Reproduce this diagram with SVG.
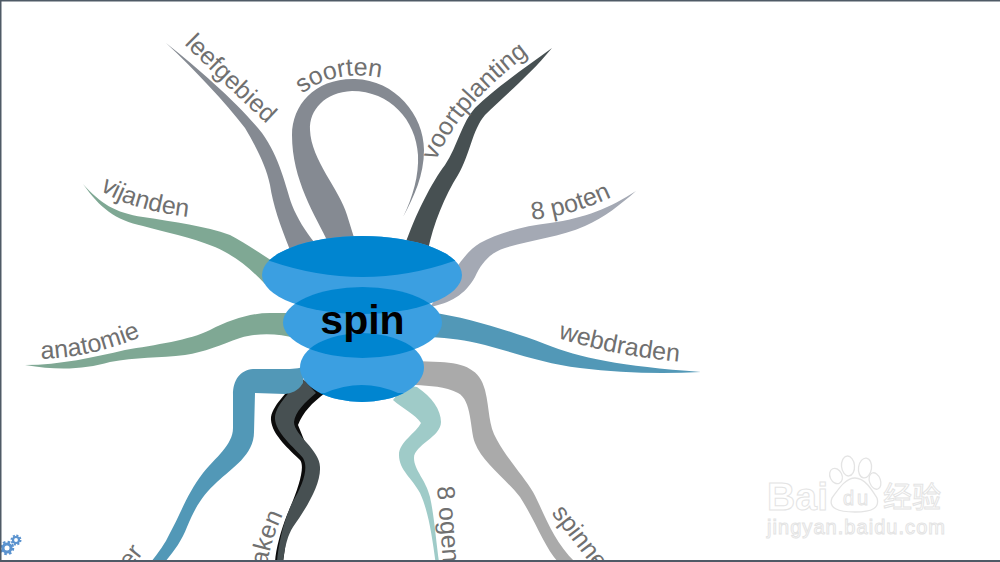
<svg xmlns="http://www.w3.org/2000/svg" width="1000" height="562" viewBox="0 0 1000 562">
<style>
.lbl{font-family:"Liberation Sans",Arial,sans-serif;font-size:25px;fill:#707070}
.wm{font-family:"Liberation Sans",Arial,sans-serif;fill:#fff;stroke:#e4e4e4;stroke-width:1}
.wc{fill:#fff;stroke:#e4e4e4;stroke-width:1.300}
.light{fill:#3b9fe1}
.dark{fill:#0085d0}
.gear{fill:none;stroke:#5b93cf}
</style>
<defs>
<clipPath id="ct"><ellipse cx="362" cy="275" rx="100" ry="39"/></clipPath>
<clipPath id="cm"><ellipse cx="362.500" cy="322.500" rx="79.500" ry="35.500"/></clipPath>
<clipPath id="cb"><ellipse cx="362" cy="367.500" rx="62" ry="34.500"/></clipPath>
<path id="p-leef" d="M184 44Q225 85 268 125"/>
<path id="p-soort" d="M302 94Q339 66 390 80"/>
<path id="p-voort" d="M436 161Q458 106 534 50"/>
<path id="p-poten" d="M532 220Q575 215 616 195"/>
<path id="p-vij" d="M100 190Q130 210 190 217"/>
<path id="p-ana" d="M41 359Q95 357 142 336"/>
<path id="p-web" d="M558 338Q610 355 682 362"/>
<path id="p-aken" d="M267 566Q272 535 287 506"/>
<path id="p-ogen" d="M437 487Q440 520 444 575"/>
</defs>
<rect width="1000" height="562" fill="#fff"/>
<g id="connectors">
<path fill="#858a92" d="M166 43C200 70 240 105 262 133C280 158 285 185 292 205C297 218 306 232 314 242L290 250C280 225 273 205 270 185C266 165 255 145 245 128C225 102 195 70 166 43Z"/>
<path fill="#858a92" d="M329 244C315 215 292 180 292 135C292 105 315 78 355 79C395 80 424 115 424 150C424 175 414 197 403 217C413 197 419 175 418 155C416 120 390 91 352 91C325 92 309 110 310 130C311 160 340 190 347 215L356 244Z"/>
<path fill="#475052" d="M552 48C525 68 495 88 475 108C462 122 458 145 445 165C432 182 415 215 405 245L428 250C433 225 445 195 458 175C470 155 472 130 485 115C505 95 530 75 552 48Z"/>
<path fill="#a4a9b4" d="M636 191C610 208 585 218 550 223C525 226 500 232 480 243C465 252 455 270 445 285L430 307C450 303 465 295 475 277C482 262 490 253 505 248C530 240 560 237 585 226C605 217 620 205 636 191Z"/>
<path fill="#7fa894" d="M83 184C100 203 115 213 143 217C175 222 205 226 230 235C245 243 260 253 278 265L265 284C250 268 235 256 215 247C190 237 165 232 143 226C115 220 100 208 83 184Z"/>
<path fill="#7fa894" d="M25 365C60 365 95 357 125 350C155 345 190 340 210 330C230 320 250 313 270 313L295 313V338C280 334 260 332 240 338C220 345 205 352 185 355C160 358 135 357 110 362C85 369 60 371 25 365Z"/>
<path fill="#5298b7" d="M430 312C470 318 510 331 545 344C580 358 620 366 701 372C660 374 620 373 580 368C545 364 515 353 485 345C465 340 450 338 430 337Z"/>
<path fill="#aaaaaa" d="M415 361L440 362C465 363 480 370 485 390C490 410 488 425 497 440C508 460 525 478 533 492C543 510 552 540 575 562L558 562C545 548 535 520 520 497C505 478 482 462 475 443C470 430 472 400 458 393C445 386 430 386 415 385Z"/>
<path fill="#9fcbc8" d="M405 385L417 387C432 397 441 410 441 422C441 437 414 445 414 458C414 470 426 480 430 497C434 515 436 540 439 562H435.500C432 535 428 510 420 493C412 478 399 470 399 455C399 442 416 433 421 423C415 414 402 408 393 400Z"/>
<path fill="#0c0c0c" d="M300 378C287 392 270 408 271 420C272 435 290 450 300 460C305 466 300 485 287 515C281 530 276 548 275 562L283 562L288 527L315 467L298 425C303 412 312 403 325 393Z"/>
<path fill="#475052" d="M302 378C290 392 276 405 275 417C274 432 295 448 303 458C309 468 303 485 292 503C284 520 278 545 277 562L283 562C285 545 288 535 293 527C305 510 321 485 320 467C320 450 294 435 294 422C295 412 305 402 316 393Z"/>
<path fill="#5298b7" d="M303 367C296 369 290 369 280 369L253 369C240 370 233 380 233 395L233 428C233 445 215 458 203 473C188 492 180 515 170 533C165 544 158 553 151 562L165 562C175 550 182 540 187 527C196 505 204 494 217 482C232 468 254 455 254 432L255 393L285 394C295 393 300 388 303 383Z"/>
</g>
<g id="node-spin">
<ellipse class="light" cx="362" cy="275" rx="100" ry="39"/>
<ellipse class="light" cx="362.500" cy="322.500" rx="79.500" ry="35.500"/>
<ellipse class="light" cx="362" cy="367.500" rx="62" ry="34.500"/>
<path class="dark" clip-path="url(#ct)" d="M250 225H475V261H454Q363 293 270 261H250Z"/>
<g clip-path="url(#ct)"><ellipse class="dark" cx="362.500" cy="322.500" rx="79.500" ry="35.500"/></g>
<g clip-path="url(#cm)"><ellipse class="dark" cx="362" cy="367.500" rx="62" ry="34.500"/></g>
<path class="dark" clip-path="url(#cb)" d="M300 393H325Q362 377 398 393H430V410H300Z"/>
<text x="362.500" y="334" text-anchor="middle" font-family="'Liberation Sans',Arial,sans-serif" font-weight="700" font-size="41" fill="#000">spin</text>
</g>
<g id="node-leefgebied"><text class="lbl"><textPath href="#p-leef">leefgebied</textPath></text></g>
<g id="node-soorten"><text class="lbl"><textPath href="#p-soort">soorten</textPath></text></g>
<g id="node-voortplanting"><text class="lbl"><textPath href="#p-voort">voortplanting</textPath></text></g>
<g id="node-8poten"><text class="lbl"><textPath href="#p-poten">8 poten</textPath></text></g>
<g id="node-vijanden"><text class="lbl"><textPath href="#p-vij">vijanden</textPath></text></g>
<g id="node-anatomie"><text class="lbl"><textPath href="#p-ana">anatomie</textPath></text></g>
<g id="node-webdraden"><text class="lbl"><textPath href="#p-web">webdraden</textPath></text></g>
<g id="node-spinnen"><text class="lbl" transform="translate(551 513) rotate(52)">spinne</text></g>
<g id="node-8ogen"><text class="lbl"><textPath href="#p-ogen">8 ogen</textPath></text></g>
<g id="node-aken"><text class="lbl"><textPath href="#p-aken">aken</textPath></text></g>
<g id="node-er"><text class="lbl" transform="translate(130 570) rotate(-52)">er</text></g>
<g id="gears">
<circle class="gear" cx="7" cy="548" r="4" stroke-width="3"/><circle class="gear" cx="7" cy="548" r="6" stroke-width="2.500" stroke-dasharray="2.500 2.200"/>
<circle class="gear" cx="16" cy="540" r="3" stroke-width="2.200"/><circle class="gear" cx="16" cy="540" r="4.500" stroke-width="2" stroke-dasharray="2 1.500"/>
</g>
<g id="watermark">
<text class="wm" x="767" y="510" font-size="39" font-weight="700" textLength="61">Bai</text>
<ellipse class="wc" cx="836" cy="476" rx="6" ry="8" transform="rotate(-25 836 476)"/>
<ellipse class="wc" cx="848" cy="466" rx="6.500" ry="10" transform="rotate(-5 848 466)"/>
<ellipse class="wc" cx="865" cy="468" rx="6.500" ry="10" transform="rotate(8 865 468)"/>
<ellipse class="wc" cx="875" cy="481" rx="5.500" ry="8.500" transform="rotate(-20 875 481)"/>
<path class="wc" d="M855 478C845 478 838 490 832 498C828 508 838 512 855 512C872 512 880 508 877 498C872 490 865 478 855 478Z"/>
<text class="wm" x="843" y="505" font-size="20" textLength="25">du</text>
<text class="wm" x="883" y="508" font-size="29" style="font-family:'Noto Sans CJK SC',sans-serif">经验</text>
<text class="wm" x="767" y="534" font-size="20" textLength="178">jingyan.baidu.com</text>
</g>
<g id="frame" fill="#4f5a66">
<rect x="0" y="0" width="1000" height="1.500"/>
<rect x="0" y="0" width="1.500" height="562"/>
<rect x="0" y="560" width="1000" height="2"/>
</g>
</svg>
